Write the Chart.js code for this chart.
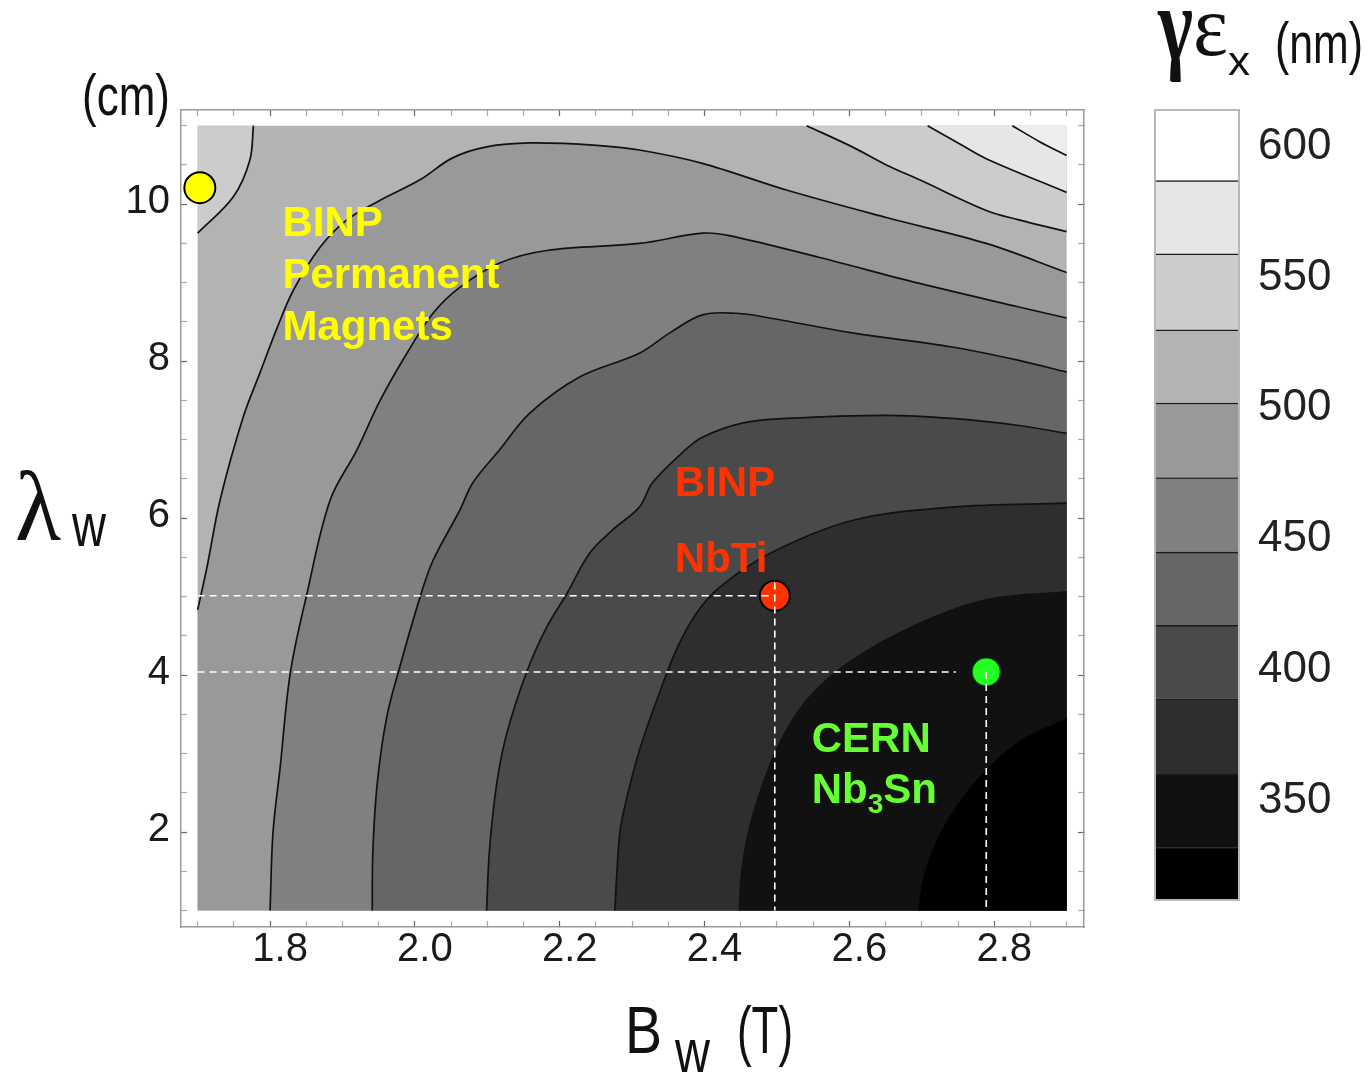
<!DOCTYPE html>
<html>
<head>
<meta charset="utf-8">
<title>Emittance map: wiggler field vs period</title>
<script src="https://cdn.jsdelivr.net/npm/chart.js@4.4.1/dist/chart.umd.min.js"></script>
<style>
  html, body { margin: 0; padding: 0; background: #fff; }
  #wrap { position: relative; width: 1369px; height: 1074px; }
  #plot { position: absolute; left: 0; top: 0; }
  #bar { position: absolute; left: 1150px; top: 0; }
</style>
</head>
<body>
<div id="wrap">
  <canvas id="plot" width="1369" height="1074"></canvas>
  <canvas id="bar" width="219" height="1074"></canvas>
</div>
<script>
// axes: B_w (T) horizontally, lambda_w (cm) vertically
const xRange = [1.677, 2.924];
const yRange = [0.79, 11.2];
const mapBox = [1.7, 2.9, 1, 11];   // extent of the computed map

const xTicks = [1.7, 1.75, 1.8, 1.85, 1.9, 1.95, 2.0, 2.05, 2.1, 2.15, 2.2, 2.25, 2.3,
  2.35, 2.4, 2.45, 2.5, 2.55, 2.6, 2.65, 2.7, 2.75, 2.8, 2.85, 2.9];
const yTicks = [1, 1.5, 2, 2.5, 3, 3.5, 4, 4.5, 5, 5.5, 6, 6.5, 7, 7.5, 8, 8.5, 9, 9.5, 10, 10.5, 11];

// contour lines, [B, lambda]
const cL1 = [[1.777, 11], [1.772, 10.56], [1.749, 10.09], [1.70, 9.63]];
const cLa = [[2.541, 11], [2.604, 10.73], [2.651, 10.50], [2.697, 10.31], [2.789, 9.92], [2.834, 9.80], [2.9, 9.65]];
const cLb = [[2.708, 11], [2.752, 10.77], [2.789, 10.58], [2.9, 10.15]];
const cLc = [[2.825, 11], [2.862, 10.80], [2.9, 10.62]];
const cL2 = [[1.70, 4.83], [1.713, 5.38], [1.731, 6.23], [1.763, 7.29], [1.786, 7.85], [1.810, 8.43],
  [1.832, 8.90], [1.869, 9.45], [1.906, 9.80], [1.952, 10.05], [2.007, 10.31], [2.052, 10.59],
  [2.099, 10.73], [2.159, 10.78], [2.251, 10.75], [2.310, 10.69], [2.397, 10.52], [2.513, 10.18],
  [2.651, 9.83], [2.789, 9.50], [2.9, 9.13]];
const cL3 = [[1.80, 1.0], [1.804, 1.99], [1.814, 2.83], [1.828, 4.03], [1.851, 5.04], [1.883, 6.23],
  [1.920, 6.87], [1.952, 7.50], [1.989, 8.10], [2.025, 8.61], [2.062, 8.94], [2.117, 9.25],
  [2.182, 9.41], [2.310, 9.50], [2.397, 9.63], [2.434, 9.60], [2.559, 9.32], [2.697, 8.99],
  [2.834, 8.69], [2.9, 8.55]];
const cL4 = [[1.941, 1.0], [1.942, 1.77], [1.948, 2.62], [1.961, 3.46], [1.979, 4.10], [2.007, 4.99],
  [2.025, 5.46], [2.062, 6.10], [2.080, 6.45], [2.117, 6.87], [2.159, 7.34], [2.228, 7.80],
  [2.310, 8.10], [2.352, 8.36], [2.397, 8.59], [2.444, 8.61], [2.490, 8.55], [2.604, 8.36],
  [2.742, 8.18], [2.834, 8.01], [2.9, 7.86]];
const cL5 = [[2.099, 1.0], [2.103, 1.77], [2.113, 2.62], [2.127, 3.26], [2.154, 4.03], [2.182, 4.61],
  [2.210, 5.04], [2.241, 5.55], [2.273, 5.85], [2.310, 6.14], [2.328, 6.45], [2.370, 6.84],
  [2.397, 7.03], [2.452, 7.21], [2.513, 7.27], [2.651, 7.31], [2.742, 7.27], [2.834, 7.18], [2.9, 7.08]];
const cL6 = [[2.276, 1.0], [2.283, 1.99], [2.292, 2.41], [2.310, 3.04], [2.334, 3.68], [2.361, 4.32],
  [2.389, 4.79], [2.421, 5.12], [2.490, 5.55], [2.604, 5.97], [2.742, 6.14], [2.9, 6.19]];
const cL7 = [[2.448, 1.0], [2.452, 1.55], [2.466, 2.19], [2.499, 3.04], [2.541, 3.68], [2.604, 4.19],
  [2.697, 4.66], [2.789, 4.96], [2.9, 5.06]];
const cL8 = [[2.694, 1.0], [2.701, 1.43], [2.724, 1.99], [2.770, 2.62], [2.834, 3.17], [2.9, 3.46]];

// gray level of each band, matching the colour bar
const baseShade = '#b3b3b3';
const topShades = ['#cccccc', '#cccccc', '#e6e6e6', '#eeeeee'];      // cL1, cLa, cLb, cLc
const lowShades = ['#999999', '#808080', '#666666', '#4a4a4a', '#2e2e2e', '#111111', '#000000']; // cL2..cL8

// marked design points
const markB = [1.703, 2.497, 2.789];
const markL = [10.21, 5.01, 4.04];
const markFill = ['#ffff00', '#ff3300', '#22ff22'];
const guideRedH = [[1.7, 5.01], [2.497, 5.01]];
const guideRedV = [[2.497, 5.18], [2.497, 1.0]];
const guideGreenH = [[1.7, 4.04], [2.747, 4.04]];
const guideGreenV = [[2.789, 4.04], [2.789, 1.0]];

// colour bar: band edges (nm) and shades, bottom to top
const barEdges = [312, 332, 360, 389, 417, 445, 473.5, 502, 530, 559, 587, 614];
const barShades = ['#000000', '#111111', '#2e2e2e', '#4a4a4a', '#666666', '#808080', '#999999',
  '#b3b3b3', '#cccccc', '#e6e6e6', '#ffffff'];
const barTicks = [350, 400, 450, 500, 550, 600];

const sans = "'Liberation Sans', Arial, Helvetica, sans-serif";
const serif = "'Liberation Serif', 'Times New Roman', serif";

const pts = arr => arr.map(p => ({x: p[0], y: p[1]}));

// contour line + closing corners; end points doubled so the edges stay straight
function region(line, corners) {
  const out = line.slice();
  out.push(line[line.length - 1]);
  corners.forEach(c => { out.push(c, c); });
  return pts(out);
}

const datasets = [];
const [bx0, bx1, by0, by1] = mapBox;
datasets.push({
  data: pts([[bx0, by0], [bx1, by0], [bx1, by1], [bx0, by1]]),
  fill: 'shape', backgroundColor: baseShade, borderWidth: 0, pointRadius: 0, tension: 0, order: 100
});
[cL1, cLa, cLb, cLc].forEach((line, i) => {
  datasets.push({
    data: region(line, [i === 0 ? [bx0, by1] : [bx1, by1]]),
    fill: 'shape', backgroundColor: topShades[i], borderWidth: 0, pointRadius: 0,
    tension: 0.35, order: 90 - i
  });
});
[cL2, cL3, cL4, cL5, cL6, cL7, cL8].forEach((line, i) => {
  datasets.push({
    data: region(line, i === 0 ? [[bx1, by0], [bx0, by0]] : [[bx1, by0]]),
    fill: 'shape', backgroundColor: lowShades[i], borderWidth: 0, pointRadius: 0,
    tension: 0.35, order: 80 - i
  });
});
[cL1, cLa, cLb, cLc, cL2, cL3, cL4, cL5, cL6, cL7, cL8].forEach(line => {
  datasets.push({
    data: pts(line), fill: false, borderColor: '#111', borderWidth: 1.7,
    pointRadius: 0, tension: 0.35, order: 20
  });
});
datasets.push({
  data: markB.map((b, i) => ({x: b, y: markL[i]})),
  showLine: false, pointRadius: [15.5, 15, 14], pointBackgroundColor: markFill,
  pointBorderColor: ['#000', '#000', '#0a5a0a'], pointBorderWidth: [2, 2, 1], order: 10
});
[guideRedH, guideRedV, guideGreenH, guideGreenV].forEach(g => {
  datasets.push({
    data: pts(g), fill: false, borderColor: '#ffffff', borderWidth: 1.6,
    borderDash: [7, 5], pointRadius: 0, tension: 0, order: 5
  });
});

// labels inside the map, anchored in data units (left, baseline)
const notes = [
  {text: 'BINP', b: 1.817, l: 9.59, color: '#ffff00'},
  {text: 'Permanent', b: 1.817, l: 8.93, color: '#ffff00'},
  {text: 'Magnets', b: 1.817, l: 8.27, color: '#ffff00'},
  {text: 'BINP', b: 2.359, l: 6.28, color: '#ff3300'},
  {text: 'NbTi', b: 2.359, l: 5.31, color: '#ff3300'},
  {text: 'CERN', b: 2.548, l: 3.02, color: '#66ff33'},
  {text: 'Nb|3|Sn', b: 2.548, l: 2.37, color: '#66ff33'}
];

function putText(ctx, str, x, y, w, font, color) {
  ctx.save();
  ctx.font = font;
  ctx.fillStyle = color;
  ctx.textBaseline = 'alphabetic';
  ctx.textAlign = 'left';
  const k = w ? w / ctx.measureText(str).width : 1;
  ctx.translate(x, y);
  ctx.scale(k, 1);
  ctx.fillText(str, 0, 0);
  ctx.restore();
}

const textPlugin = {
  id: 'labels',
  afterDraw(chart) {
    const ctx = chart.ctx;
    const sx = chart.scales.x, sy = chart.scales.y;
    const bold = 'bold 42px ' + sans;
    notes.forEach(n => {
      let x = sx.getPixelForValue(n.b);
      const y = sy.getPixelForValue(n.l);
      ctx.save();
      ctx.fillStyle = n.color;
      if (n.text.indexOf('|') >= 0) {
        const [a, sub, c] = n.text.split('|');
        ctx.font = bold;
        ctx.fillText(a, x, y);
        x += ctx.measureText(a).width;
        ctx.font = 'bold 28px ' + sans;
        ctx.fillText(sub, x, y + 10);
        x += ctx.measureText(sub).width;
        ctx.font = bold;
        ctx.fillText(c, x, y);
      } else {
        ctx.font = bold;
        ctx.fillText(n.text, x, y);
      }
      ctx.restore();
    });

    // axis titles, in the narrow style of the original
    const ink = '#111';
    putText(ctx, '(cm)', 82, 115, 88, '58px ' + sans, ink);
    putText(ctx, 'λ', 15, 540, 46, '100px ' + serif, ink);
    putText(ctx, 'w', 72, 546, 34, '62px ' + sans, ink);
    putText(ctx, 'B', 625, 1053, 37, '67px ' + sans, ink);
    putText(ctx, 'w', 675, 1072, 35, '62px ' + sans, ink);
    putText(ctx, '(T)', 737, 1053, 56, '66px ' + sans, ink);
    putText(ctx, 'γ', 1158, 59, 35, 'bold 106px ' + serif, ink);
    putText(ctx, 'ε', 1193, 55, 35, '87px ' + serif, ink);
    putText(ctx, 'x', 1228, 75, 22, '40px ' + sans, ink);
    putText(ctx, '(nm)', 1275, 63, 88, '58px ' + sans, ink);
  }
};

const near = (v, step) => Math.abs(v / step - Math.round(v / step)) < 1e-6;

function frameAxis(pos, axis, list, size, withLabels) {
  const horiz = axis === 'x';
  const cfg = {
    type: 'linear', axis: axis, position: pos,
    min: horiz ? xRange[0] : yRange[0],
    max: horiz ? xRange[1] : yRange[1],
    afterBuildTicks: s => { s.ticks = list.map(v => ({value: v})); },
    afterFit: s => { if (horiz) s.height = size; else s.width = size; },
    border: {display: true, color: '#9a9a9a', width: 1.5},
    grid: {
      drawOnChartArea: false, drawTicks: true, tickLength: -6, tickWidth: 1.2,
      tickColor: c => (near(c.tick.value, horiz ? 0.2 : 2) ? '#666' : '#aaa')
    },
    ticks: {display: false}
  };
  if (withLabels) {
    cfg.ticks = {
      display: true, autoSkip: false, maxRotation: 0, minRotation: 0,
      color: '#1a1a1a', font: {family: sans, size: 40, lineHeight: 1},
      padding: horiz ? 9 : 17,
      labelOffset: horiz ? 10 : -2,
      callback: v => {
        if (horiz) return near(v, 0.2) && v > 1.75 && v < 2.85 ? v.toFixed(1) : '';
        return near(v, 2) ? String(v) : '';
      }
    };
  }
  return cfg;
}

new Chart(document.getElementById('plot'), {
  type: 'line',
  data: {datasets: datasets},
  options: {
    responsive: false,
    animation: false,
    events: [],
    layout: {padding: {left: 0, top: 110, right: 285, bottom: 0}},
    plugins: {legend: {display: false}, tooltip: {enabled: false}},
    scales: {
      x: frameAxis('bottom', 'x', xTicks, 147, true),
      xt: frameAxis('top', 'x', xTicks, 0, false),
      y: frameAxis('left', 'y', yTicks, 181, true),
      yr: frameAxis('right', 'y', yTicks, 0, false)
    }
  },
  plugins: [textPlugin]
});

// colour bar
const barFrame = {
  id: 'barFrame',
  afterDatasetsDraw(chart) {
    const {ctx, chartArea: a} = chart;
    ctx.save();
    ctx.strokeStyle = '#b8b8b8';
    ctx.lineWidth = 2;
    ctx.strokeRect(a.left, a.top, a.right - a.left, a.bottom - a.top);
    ctx.restore();
  }
};

new Chart(document.getElementById('bar'), {
  type: 'bar',
  data: {
    labels: ['γεx'],
    datasets: barShades.map((c, i) => ({
      data: [[barEdges[i], barEdges[i + 1]]],
      backgroundColor: c,
      borderColor: '#1a1a1a',
      borderWidth: {top: i < barShades.length - 1 ? 1.5 : 0, bottom: 0, left: 0, right: 0},
      borderSkipped: false,
      barPercentage: 1,
      categoryPercentage: 1,
      grouped: false
    }))
  },
  options: {
    responsive: false,
    animation: false,
    events: [],
    layout: {padding: {left: 5, top: 110, right: 0, bottom: 174}},
    plugins: {legend: {display: false}, tooltip: {enabled: false}},
    scales: {
      x: {display: false},
      y: {
        position: 'right',
        min: barEdges[0],
        max: barEdges[barEdges.length - 1],
        afterBuildTicks: s => { s.ticks = barTicks.map(v => ({value: v})); },
        afterFit: s => { s.width = 130; },
        grid: {display: false, drawTicks: false},
        border: {display: false},
        ticks: {padding: 19, color: '#222', font: {family: sans, size: 44}}
      }
    }
  },
  plugins: [barFrame]
});
</script>
</body>
</html>
